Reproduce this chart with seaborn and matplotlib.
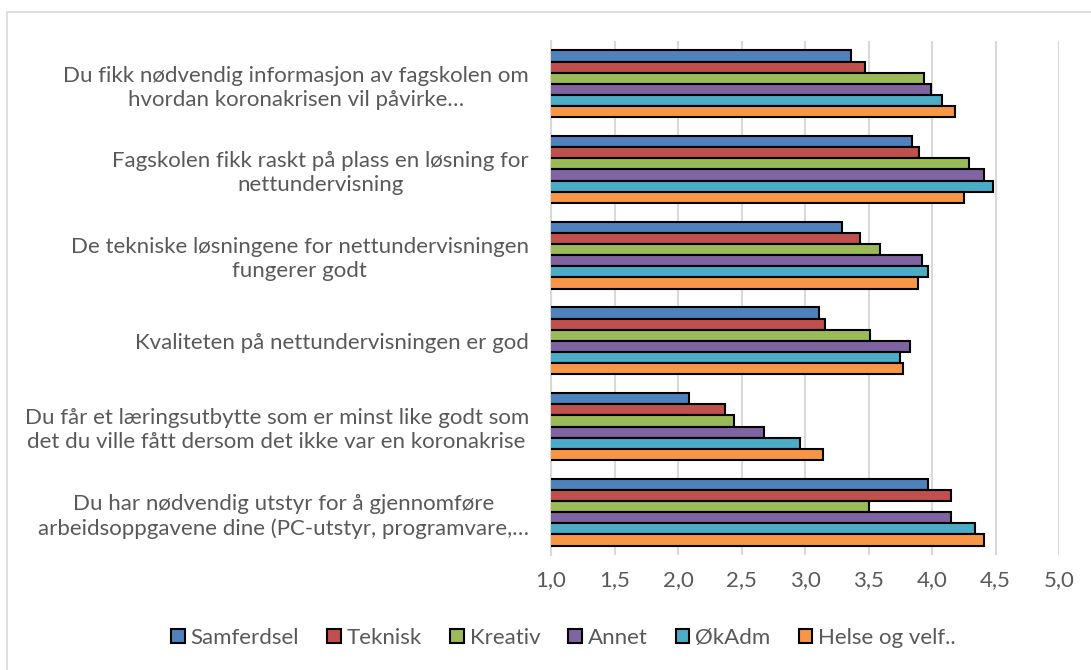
import matplotlib
matplotlib.use("Agg")
import matplotlib.pyplot as plt
import matplotlib.patches as mpatches
from matplotlib.ticker import FuncFormatter
import seaborn as sns
import pandas as pd

categories = [
    "Du fikk nødvendig informasjon av fagskolen om\nhvordan koronakrisen vil påvirke…",
    "Fagskolen fikk raskt på plass en løsning for\nnettundervisning",
    "De tekniske løsningene for nettundervisningen\nfungerer godt",
    "Kvaliteten på nettundervisningen er god",
    "Du får et læringsutbytte som er minst like godt som\ndet du ville fått dersom det ikke var en koronakrise",
    "Du har nødvendig utstyr for å gjennomføre\narbeidsoppgavene dine (PC-utstyr, programvare,…",
]
series = ["Samferdsel", "Teknisk", "Kreativ", "Annet", "ØkAdm", "Helse og velf.."]
samferdsel = [3.36, 3.84, 3.29, 3.11, 2.09, 3.97]
teknisk = [3.47, 3.90, 3.43, 3.16, 2.37, 4.15]
kreativ = [3.94, 4.29, 3.59, 3.51, 2.44, 3.50]
annet = [3.99, 4.41, 3.92, 3.83, 2.68, 4.15]
okadm = [4.08, 4.48, 3.97, 3.75, 2.96, 4.34]
helse = [4.18, 4.25, 3.89, 3.77, 3.14, 4.41]
colors = ["#4F81BD", "#C0504D", "#9BBB59", "#8064A2", "#4BACC6", "#F79646"]
xticks = [1.0, 1.5, 2.0, 2.5, 3.0, 3.5, 4.0, 4.5, 5.0]

values = [samferdsel, teknisk, kreativ, annet, okadm, helse]
rows = []
for s, vals in zip(series, values):
    for c, v in zip(categories, vals):
        rows.append({"category": c, "series": s, "value": v})
df = pd.DataFrame(rows)

sns.set_theme(style="white")
plt.rcParams["font.family"] = ["Lato", "DejaVu Sans"]
text_color = "#595959"
fs = 16

fig = plt.figure(figsize=(10.91, 6.70), dpi=100)
ax = fig.add_axes([551/1091, 1 - 555/670, (1059-551)/1091, (555-41)/670])

sns.barplot(data=df, y="category", x="value", hue="series", order=categories,
            hue_order=series, palette=colors, saturation=1, orient="h", width=0.78,
            edgecolor="black", linewidth=1.5, ax=ax, legend=True, zorder=3)

ax.set_xlim(1.0, 5.0)
ax.set_xticks(xticks)
ax.xaxis.set_major_formatter(FuncFormatter(lambda v, p: f"{v:.1f}".replace(".", ",")))
ax.grid(axis="x", color="#D9D9D9", linewidth=1.5, zorder=0)
ax.set_axisbelow(True)
ax.set_xlabel("")
ax.set_ylabel("")
for side in ["top", "right", "bottom"]:
    ax.spines[side].set_visible(False)
ax.spines["left"].set_color("#D9D9D9")
ax.spines["left"].set_linewidth(1.5)
ax.tick_params(axis="x", colors=text_color, labelsize=fs, length=0, pad=11)
ax.tick_params(axis="y", colors=text_color, labelsize=fs, length=0, pad=16)
for lbl in ax.get_yticklabels():
    lbl.set_multialignment("center")
    lbl.set_linespacing(1.25)

handles, labels = ax.get_legend_handles_labels()
ax.get_legend().remove()
leg = fig.legend(handles, labels, loc="center", bbox_to_anchor=(0.5 + 18/1091, 1 - 638/670),
                 ncol=6, frameon=False, fontsize=fs, handlelength=0.6,
                 handleheight=0.6, handletextpad=0.27, columnspacing=1.27)
for t in leg.get_texts():
    t.set_color(text_color)

border = mpatches.Rectangle((7/1091, -0.01), 1.0, (670-12)/670 + 0.01,
                            transform=fig.transFigure, fill=False,
                            edgecolor="#D9D9D9", linewidth=1.2)
fig.patches.append(border)

fig.savefig("out.png", dpi=100)
